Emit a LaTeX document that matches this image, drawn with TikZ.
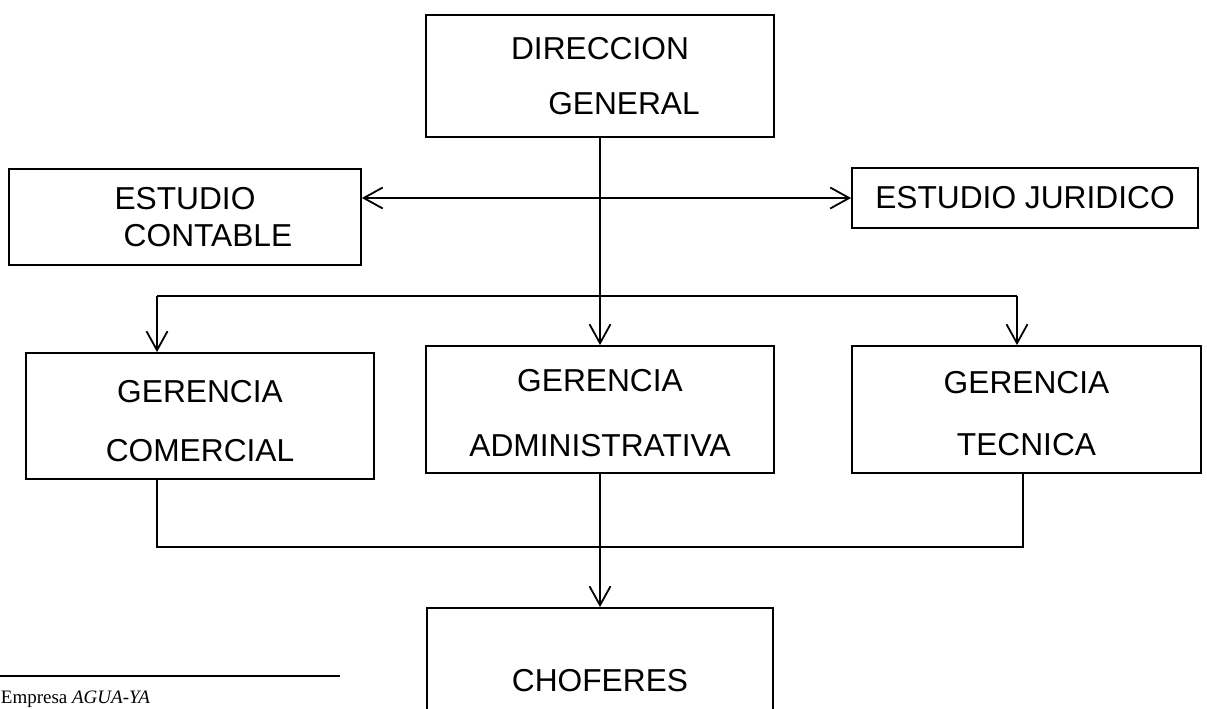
\documentclass[tikz,border=0pt]{standalone}
\usepackage{fontspec}
\setmainfont{Liberation Serif}
\setsansfont{Liberation Sans}
\usetikzlibrary{arrows.meta}

\begin{document}
\begin{tikzpicture}[x=1pt, y=-1pt, line width=1.8pt,
    every node/.style={align=center},
    caja/.style={draw, inner sep=0pt, font=\sffamily\fontsize{31.7}{37}\selectfont},
    >={Straight Barb[length=19pt,width=21pt]}]
    \useasboundingbox (0,0) rectangle (1207,709);
    \node[caja, minimum width=348pt, minimum height=122pt] (direccion) at (600,76) {DIRECCION\\[18pt]\hspace*{48pt}GENERAL};
    \node[caja, minimum width=352pt, minimum height=96pt] (contable) at (185,217) {ESTUDIO\\\hspace*{46pt}CONTABLE};
    \node[caja, minimum width=346pt, minimum height=60pt] (juridico) at (1025,198) {ESTUDIO JURIDICO};
    \node[caja, minimum width=348pt, minimum height=126pt] (comercial) at (200,416) {\rule{0pt}{32pt}GERENCIA\\[22pt]COMERCIAL};
    \node[caja, minimum width=348pt, minimum height=127pt] (adm) at (600,409.5) {\rule{0pt}{29pt}GERENCIA\\[28pt]ADMINISTRATIVA};
    \node[caja, minimum width=349pt, minimum height=127pt] (tecnica) at (1026.5,409.5) {\rule{0pt}{31pt}GERENCIA\\[25pt]TECNICA};
    \node[caja, minimum width=346pt, minimum height=146pt] (choferes) at (600,681) {CHOFERES};
    \draw[->] (direccion) -- (adm);
    \draw[<->] (contable.east |- juridico.west) -- (juridico.west);
    \coordinate (ramaI) at (157,296);
    \coordinate (ramaD) at (1017,296);
    \draw (ramaI) -- (ramaD);
    \draw[->] (ramaI) -- (ramaI |- comercial.north);
    \draw[->] (ramaD) -- (ramaD |- tecnica.north);
    \coordinate (juntaI) at (157,547);
    \coordinate (juntaD) at (1023,547);
    \draw (comercial.south -| juntaI) -- (juntaI) -- (juntaD) -- (tecnica.south -| juntaD);
    \draw (adm) -- (adm.south |- juntaI);
    \draw[->] (adm.south |- juntaI) -- (choferes);
    \draw[line width=1.5pt] (0,676) -- (340,676);
    \node[anchor=base west, inner sep=0pt, font=\fontsize{19}{22}\selectfont] (nota) at (0,703) {Empresa \textit{AGUA-YA}};
\end{tikzpicture}
\end{document}
